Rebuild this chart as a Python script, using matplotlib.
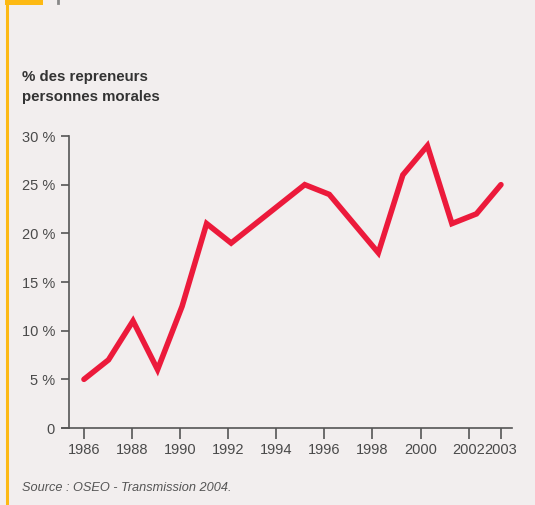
import matplotlib
matplotlib.use("Agg")
import matplotlib.pyplot as plt
from matplotlib.lines import Line2D
from matplotlib.patches import Rectangle

years = [1986, 1987, 1988, 1989, 1990, 1991, 1992, 1993, 1994, 1995,
         1996, 1997, 1998, 1999, 2000, 2001, 2002, 2003]
values = [5, 7, 11, 6, 12.5, 21, 19, 21, 23, 25,
          24, 21, 18, 26, 29, 21, 22, 25]
xtick_years = [1986, 1988, 1990, 1992, 1994, 1996, 1998, 2000, 2002, 2003]
ytick_values = [0, 5, 10, 15, 20, 25, 30]
ytick_labels = ["0", "5 %", "10 %", "15 %", "20 %", "25 %", "30 %"]
title_text = "% des repreneurs\npersonnes morales"
source_text = "Source : OSEO - Transmission 2004."

bg = "#f2eeee"
red = "#ec1a3b"
axis_col = "#555555"
text_col = "#4a4a4a"
orange = "#fdb913"

W, H = 535, 505
fig = plt.figure(figsize=(W / 100, H / 100), dpi=100, facecolor=bg)

ax = fig.add_axes([69 / W, 1 - 428 / H, (512 - 69) / W, (428 - 136) / H])
ax.set_facecolor(bg)
ax.plot(years, values, color=red, lw=4, solid_joinstyle="miter",
        solid_capstyle="round", clip_on=False, zorder=3)

ax.set_xlim(1985.39, 2003.45)
ax.set_ylim(0, 30)

# tick positions drawn slightly compressed as in the reference
tick_pos = [1986 + (y - 1986) * 0.98 if y != 2003 else 2003 for y in xtick_years]
ax.set_xticks(tick_pos)
ax.set_xticklabels([str(y) for y in xtick_years])
ax.set_yticks(ytick_values)
ax.set_yticklabels(ytick_labels)

for s in ["top", "right"]:
    ax.spines[s].set_visible(False)
for s in ["left", "bottom"]:
    ax.spines[s].set_color(axis_col)
    ax.spines[s].set_linewidth(1.2)

ax.tick_params(axis="x", direction="out", length=8, width=1.2, color=axis_col,
               labelsize=10.5, labelcolor=text_col, pad=3)
ax.tick_params(axis="y", direction="out", length=6, width=1.2, color=axis_col,
               labelsize=10.5, labelcolor=text_col, pad=4)
for lab in ax.get_xticklabels() + ax.get_yticklabels():
    lab.set_family(["Liberation Sans", "DejaVu Sans"])

# extend x axis slightly left of y spine
fig.add_artist(Line2D([62 / W, 69 / W], [1 - 428 / H, 1 - 428 / H],
                      color=axis_col, lw=1.2, transform=fig.transFigure))

# decorations
fig.add_artist(Rectangle((5 / W, 1 - 5 / H), 38 / W, 5 / H, color=orange,
                         transform=fig.transFigure, lw=0))
fig.add_artist(Line2D([7 / W, 7 / W], [0, 1], color=orange, lw=2.2,
                      transform=fig.transFigure))
fig.add_artist(Line2D([57.5 / W, 57.5 / W], [1 - 3 / H, 1], color="#888888",
                      lw=2, transform=fig.transFigure))

fig.text(22 / W, 1 - 70 / H, title_text, ha="left", va="top",
         fontsize=10.8, fontweight="bold", color="#333333",
         family=["Liberation Sans", "DejaVu Sans"], linespacing=1.5)
fig.text(22 / W, 1 - 488 / H, source_text, ha="left", va="center",
         fontsize=9.2, style="italic", color="#555555",
         family=["Liberation Sans", "DejaVu Sans"])

fig.savefig("out.png", dpi=100, facecolor=bg)
